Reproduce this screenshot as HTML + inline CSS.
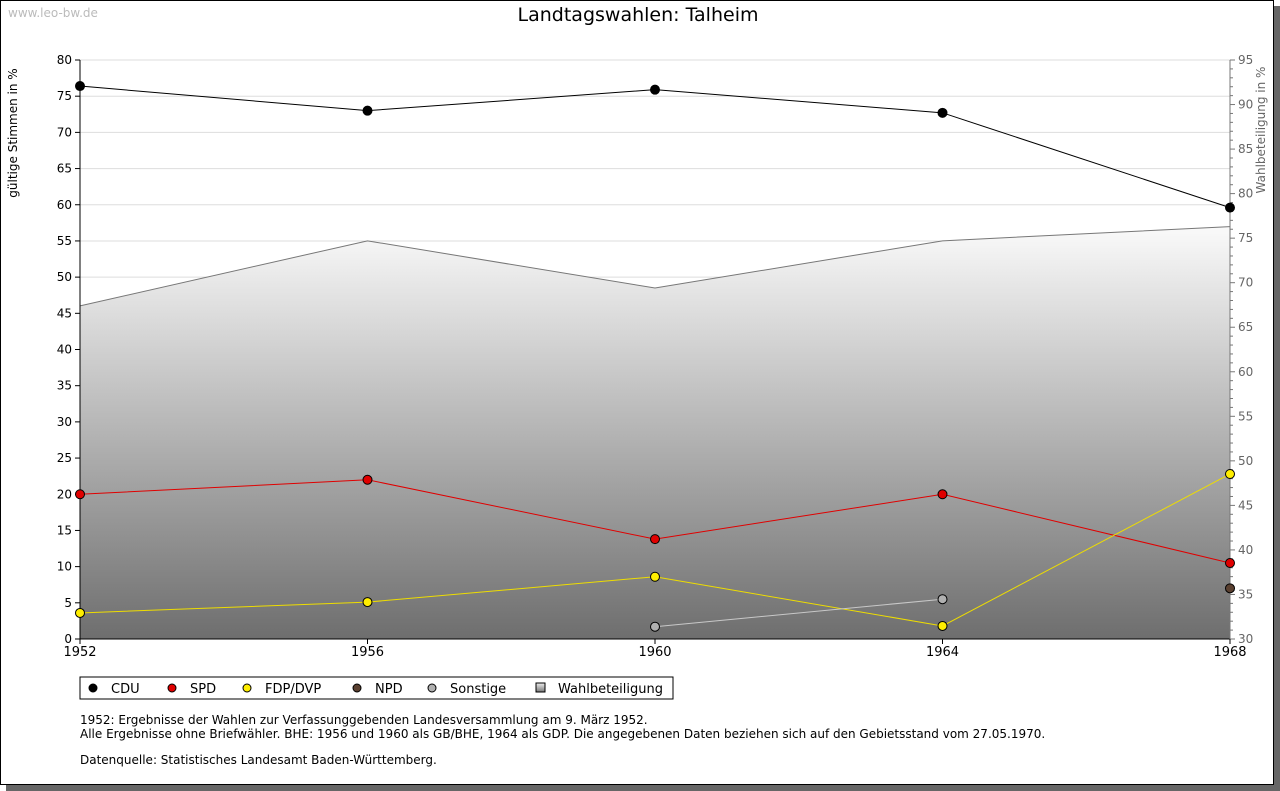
<!DOCTYPE html>
<html><head><meta charset="utf-8"><style>
body{margin:0;width:1280px;height:791px;background:#fff;font-family:"DejaVu Sans","Liberation Sans",sans-serif;overflow:hidden}
#frame{position:absolute;left:0;top:0;width:1272px;height:783px;border:1px solid #000;background:#fff;box-shadow:6px 6px 0 #666}
svg{position:absolute;left:0;top:0}
</style></head><body>
<div id="frame"></div>
<svg id="c" width="1280" height="791">
<defs><linearGradient id="g" x1="0" y1="0" x2="0" y2="1"><stop offset="0" stop-color="#fafafa"/><stop offset="1" stop-color="#6e6e6e"/></linearGradient>
<linearGradient id="lg" x1="0" y1="0" x2="0" y2="1"><stop offset="0" stop-color="#eee"/><stop offset="1" stop-color="#777"/></linearGradient></defs>
<text x="8" y="17" font-size="12" fill="#bbb">www.leo-bw.de</text>
<text x="638" y="21" font-size="19" text-anchor="middle">Landtagswahlen: Talheim</text>
<text transform="translate(17,133) rotate(-90)" font-size="12" text-anchor="middle">gültige Stimmen in %</text>
<text transform="translate(1265,130) rotate(-90)" font-size="12" fill="#666" text-anchor="middle">Wahlbeteiligung in %</text>
<g id="plot"></g>
<rect x="80" y="677" width="593" height="22" fill="#fff" stroke="#000"/>
<g id="leg"></g>
<text font-size="12"><tspan x="80" y="724">1952: Ergebnisse der Wahlen zur Verfassunggebenden Landesversammlung am 9. März 1952.</tspan><tspan x="80" y="738">Alle Ergebnisse ohne Briefwähler. BHE: 1956 und 1960 als GB/BHE, 1964 als GDP. Die angegebenen Daten beziehen sich auf den Gebietsstand vom 27.05.1970.</tspan><tspan x="80" y="764">Datenquelle: Statistisches Landesamt Baden-Württemberg.</tspan></text>
</svg>
<script>
const years=[1952,1956,1960,1964,1968];
const cdu=[76.4,73.0,75.9,72.7,59.6];
const spd=[20.0,22.0,13.8,20.0,10.5];
const fdp=[3.6,5.1,8.6,1.8,22.8];
const npd=[null,null,null,null,7.0];
const sonst=[null,null,1.7,5.5,null];
const turnout=[67.4,74.7,69.4,74.7,76.3];
const leftTicks=[0,5,10,15,20,25,30,35,40,45,50,55,60,65,70,75,80];
const rightTicks=[30,35,40,45,50,55,60,65,70,75,80,85,90,95];
const NS='http://www.w3.org/2000/svg';
const X0=80,X1=1230,Y0=639,Y1=60;
const x=v=>X0+(v-1952)/(1968-1952)*(X1-X0);
const y=v=>Y0-v/80*(Y0-Y1);
const y2=v=>Y0-(v-30)/65*(Y0-Y1);
const P=document.getElementById('plot');
function mk(t,a,p){const e=document.createElementNS(NS,t);for(const k in a)e.setAttribute(k,a[k]);(p||P).appendChild(e);return e;}
leftTicks.forEach(t=>{const g=mk('line',{x1:X0,x2:X1,y1:y(t),y2:y(t),stroke:'#ddd'});


mk('line',{x1:X0-5,x2:X0,y1:y(t),y2:y(t),stroke:'#000'});
const l=mk('text',{x:X0-8,y:y(t)+4,'font-size':12,'text-anchor':'end'});l.textContent=t;

});
let pts=years.map((yr,i)=>x(yr)+','+y2(turnout[i])).join(' ');
const area=mk('polygon',{points:X0+','+Y0+' '+pts+' '+X1+','+Y0,fill:'url(#g)'});


mk('polyline',{points:pts,fill:'none',stroke:'#777'});
mk('line',{x1:X0,x2:X0,y1:Y1,y2:Y0,stroke:'#000'});
mk('line',{x1:X0,x2:X1,y1:Y0,y2:Y0,stroke:'#000'});
mk('line',{x1:X1,x2:X1,y1:Y1,y2:Y0,stroke:'#777'});
for(let v=30;v<=95;v++){mk('line',{x1:X1,x2:X1+(v%5?3:5),y1:y2(v),y2:y2(v),stroke:'#777'});}
rightTicks.forEach(t=>{const l=mk('text',{x:X1+8,y:y2(t)+4,'font-size':12,fill:'#666'});l.textContent=t;

});
years.forEach(yr=>{mk('line',{x1:x(yr),x2:x(yr),y1:Y0,y2:Y0+5,stroke:'#000'});
const l=mk('text',{x:x(yr),y:Y0+17,'font-size':13,'text-anchor':'middle'});l.textContent=yr;

});
function series(d,col,lineCol,name){const seg=[];let cur=[];d.forEach((v,i)=>{if(v==null){if(cur.length)seg.push(cur);cur=[];}else cur.push([x(years[i]),y(v)]);});if(cur.length)seg.push(cur);
seg.forEach(s=>{if(s.length>1){const l=mk('polyline',{points:s.map(p=>p.join(',')).join(' '),fill:'none',stroke:lineCol});

}
s.forEach(p=>{const m=mk('circle',{cx:p[0],cy:p[1],r:4.5,fill:col,stroke:'#000'});

});});}
series(cdu,'#000','#000','cdu');series(spd,'#e00000','#e00000','spd');series(fdp,'#ffee00','#eedd00','fdp');series(npd,'#5a4030','#5a4030','npd');series(sonst,'#b0b0b0','#c8c8c8','sonstige');
const L=document.getElementById('leg');
const legItems=[['CDU','#000',93],['SPD','#e00000',172],['FDP/DVP','#ffee00',247],['NPD','#5a4030',357],['Sonstige','#b0b0b0',432]];
legItems.forEach(([n,c,lx])=>{const m=mk('circle',{cx:lx,cy:688,r:4,fill:c,stroke:'#000'},L);


const t=mk('text',{x:lx+18,y:693,'font-size':13},L);t.textContent=n;

});
mk('rect',{x:536,y:683,width:9,height:9,fill:'url(#lg)',stroke:'#000'},L);
const tw=mk('text',{x:558,y:693,'font-size':13},L);tw.textContent='Wahlbeteiligung';


</script>
</body></html>
